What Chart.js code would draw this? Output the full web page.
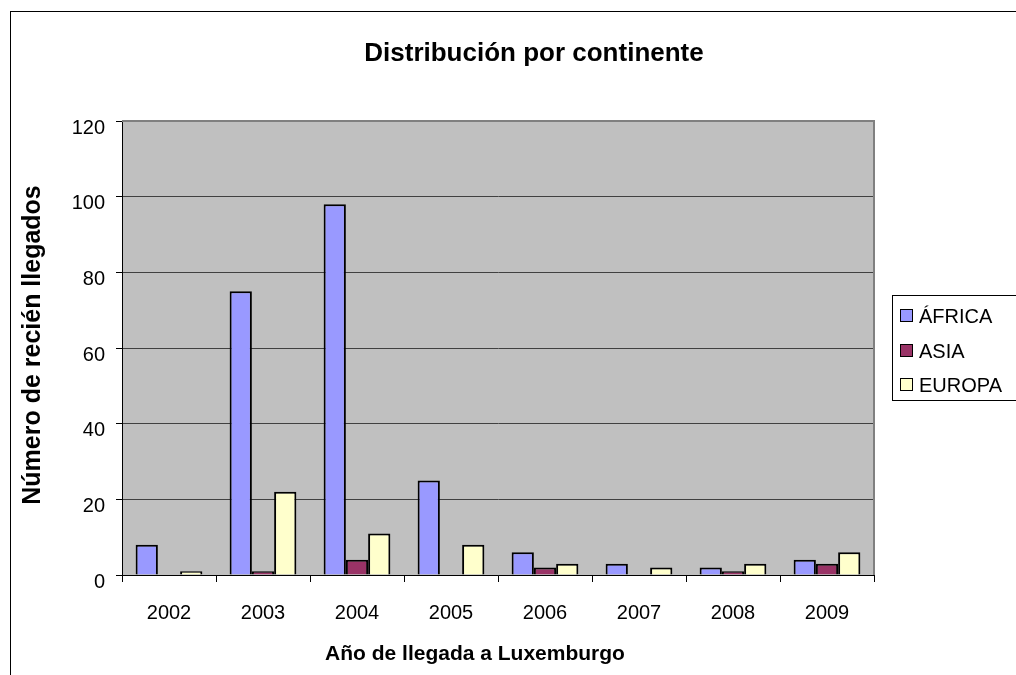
<!DOCTYPE html>
<html><head><meta charset="utf-8">
<script src="https://cdn.jsdelivr.net/npm/chart.js@4.4.0/dist/chart.umd.min.js"></script>
<style>html,body{margin:0;padding:0;background:#fff}#wrap{width:1016px;height:675px;position:relative}</style>
</head><body><div id="wrap"><canvas id="c" width="1016" height="675"></canvas></div>
<script>
const categories = ['2002','2003','2004','2005','2006','2007','2008','2009'];
const africa = [8, 75, 98, 25, 6, 3, 2, 4];
const asia = [0, 1, 4, 0, 2, 0, 1, 3];
const europa = [1, 22, 11, 8, 3, 2, 3, 6];
const seriesNames = ['ÁFRICA', 'ASIA', 'EUROPA'];
const seriesColors = ['#9999FF', '#993366', '#FFFFCC'];
const chartTitle = 'Distribución por continente';
const xTitle = 'Año de llegada a Luxemburgo';
const yTitle = 'Número de recién llegados';
const yMin = 0, yMax = 120, yStep = 20;

const FONT = "'Liberation Sans', Arial, sans-serif";

const decor = {
  id: 'decor',
  beforeDraw(chart) {
    const {ctx, chartArea: a} = chart;
    ctx.save();
    ctx.fillStyle = '#fff';
    ctx.fillRect(0, 0, chart.width, chart.height);
    ctx.strokeStyle = '#000';
    ctx.lineWidth = 1;
    ctx.strokeRect(10.5, 11.5, 1020, 700);
    ctx.fillStyle = '#C0C0C0';
    ctx.fillRect(a.left, a.top, a.right - a.left, a.bottom - a.top);
    ctx.restore();
  },
  afterDraw(chart) {
    const {ctx, chartArea: a} = chart;
    ctx.save();
    ctx.strokeStyle = '#808080';
    ctx.lineWidth = 2;
    ctx.beginPath();
    ctx.moveTo(a.left, a.top);
    ctx.lineTo(a.right, a.top);
    ctx.lineTo(a.right, a.bottom);
    ctx.stroke();
    ctx.fillStyle = '#000';
    ctx.textAlign = 'center';
    ctx.textBaseline = 'alphabetic';
    ctx.font = 'bold 26px ' + FONT;
    ctx.fillText(chartTitle, 534, 61);
    ctx.font = 'bold 21px ' + FONT;
    ctx.fillText(xTitle, 475, 660);
    ctx.save();
    ctx.translate(40, 345);
    ctx.rotate(-Math.PI / 2);
    ctx.font = 'bold 25px ' + FONT;
    ctx.fillText(yTitle, 0, 0);
    ctx.restore();
    ctx.strokeStyle = '#000';
    ctx.lineWidth = 1;
    ctx.fillStyle = '#fff';
    ctx.fillRect(892.5, 295.5, 140, 105);
    ctx.strokeRect(892.5, 295.5, 140, 105);
    const rows = [316, 351, 385];
    ctx.font = '20px ' + FONT;
    ctx.textAlign = 'left';
    ctx.textBaseline = 'middle';
    seriesNames.forEach((n, i) => {
      ctx.fillStyle = seriesColors[i];
      ctx.fillRect(900.5, rows[i] - 6.5, 12, 12);
      ctx.strokeRect(900.5, rows[i] - 6.5, 12, 12);
      ctx.fillStyle = '#000';
      ctx.fillText(n, 919, rows[i] + 1);
    });
    ctx.restore();
  }
};

const values = [africa, asia, europa];
new Chart(document.getElementById('c'), {
  type: 'bar',
  data: {
    labels: categories,
    datasets: seriesNames.map((n, i) => ({
      label: n,
      data: values[i],
      backgroundColor: seriesColors[i],
      borderColor: '#000',
      borderWidth: 2,
      borderSkipped: 'start',
      categoryPercentage: 0.71,
      barPercentage: 1.0
    }))
  },
  options: {
    responsive: false,
    animation: false,
    devicePixelRatio: 1,
    layout: { padding: { top: 121, right: 142, left: 0, bottom: 0 } },
    plugins: { legend: { display: false }, title: { display: false }, tooltip: { enabled: false } },
    scales: {
      x: {
        ticks: { font: { family: FONT, size: 20 }, color: '#000', padding: 19, maxRotation: 0 },
        grid: { offset: true, drawOnChartArea: false, tickLength: 7, color: '#000' },
        border: { color: '#000', width: 1 },
        afterFit: s => { s.height = 100; }
      },
      y: {
        min: yMin, max: yMax,
        ticks: { stepSize: yStep, font: { family: FONT, size: 20 }, color: '#000', padding: 11, labelOffset: 7 },
        grid: { color: '#404040', tickColor: '#000', tickLength: 6, lineWidth: 1 },
        border: { color: '#000', width: 1 },
        afterFit: s => { s.width = 122; }
      }
    }
  },
  plugins: [decor]
});
</script></body></html>
